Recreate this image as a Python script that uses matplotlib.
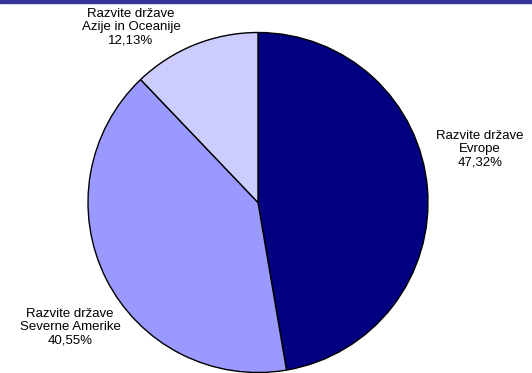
import matplotlib
matplotlib.use("Agg")
import matplotlib.pyplot as plt
from matplotlib.patches import Rectangle

regions = ["Razvite države\nEvrope", "Razvite države\nSeverne Amerike", "Razvite države\nAzije in Oceanije"]
shares = [47.32, 40.55, 12.13]
colors = ["#000080", "#9999FF", "#CCCCFF"]

W, H = 532, 373
fig = plt.figure(figsize=(W / 100, H / 100), dpi=100)
ax = fig.add_axes([0, 0, 1, 1])
ax.set_xlim(0, W)
ax.set_ylim(0, H)
ax.set_aspect("equal")
ax.axis("off")

cx, cy, r = 258, H - 202.5, 170
ax.pie(shares, colors=colors, startangle=90, counterclock=False,
       center=(cx, cy), radius=r, frame=True,
       wedgeprops=dict(edgecolor="black", linewidth=1.0))
ax.set_xlim(0, W)
ax.set_ylim(0, H)
ax.axis("off")

label_pos = [(480, H - 149), (70, H - 327), (131, H - 27)]
for name, val, (x, y) in zip(regions, shares, label_pos):
    txt = f"{name}\n{val:.2f}%".replace(".", ",")
    ax.text(x, y, txt, ha="center", va="center", fontsize=9.5,
            family="Liberation Sans", color="black", linespacing=1.12)

# top banner remnant
ax.add_patch(Rectangle((0, H - 2.5), W, 2.5, color="#333399", clip_on=False))

fig.savefig("out.png", dpi=100)
